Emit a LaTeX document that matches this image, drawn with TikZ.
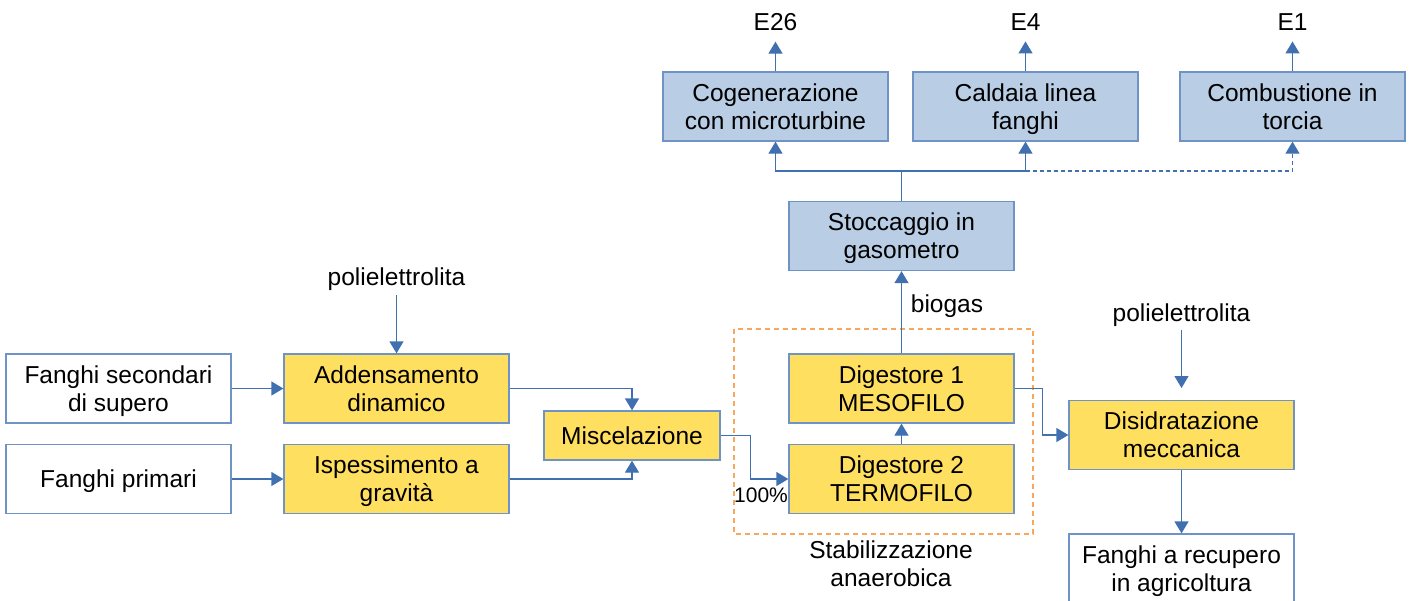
\documentclass[tikz,border=0pt]{standalone}
\usepackage{fontspec}
\setmainfont{Liberation Sans}
\usetikzlibrary{arrows.meta}
\definecolor{giallo}{HTML}{FFDF60}
\definecolor{azzurro}{HTML}{B9CDE4}
\definecolor{bordo}{HTML}{6F93C6}
\definecolor{freccia}{HTML}{4170B0}
\definecolor{arancio}{HTML}{F7A65B}
\tikzset{%
    blocco/.style={%
        draw=bordo, line width=1.3pt, fill=white,
        minimum width=225pt, minimum height=69pt,
        align=center, inner sep=0pt, text depth=0pt,
        font=\fontsize{24.5}{28}\selectfont
    },
    fase/.style={blocco, fill=giallo},
    gas/.style={blocco, fill=azzurro},
    etichetta/.style={font=\fontsize{24.5}{28}\selectfont, align=center, inner sep=0pt},
    uscita/.style={etichetta, outer ysep=11pt},
    flusso/.style={draw=freccia, line width=1.3pt, -{Triangle[width=14pt,length=12pt]}},
    linea/.style={draw=freccia, line width=1.3pt}
}

\begin{document}
\begin{tikzpicture}[x=1pt,y=-1pt]
    \useasboundingbox (0,0) rectangle (1412,600);
    % linea fanghi
    \node[blocco] (sec) at (118.5,388.5) {Fanghi secondari\\di supero};
    \node[blocco] (pri) at (118.5,479) {Fanghi primari};
    \node[fase] (add) at (396.5,388.5) {Addensamento\\dinamico};
    \node[fase] (isp) at (396.5,479) {Ispessimento a\\gravità};
    \node[fase, minimum width=176pt, minimum height=49pt] (misc) at (632,435.5) {Miscelazione};
    \node[fase] (dig1) at (901.5,388.5) {Digestore 1\\MESOFILO};
    \node[fase] (dig2) at (901.5,479) {Digestore 2\\TERMOFILO};
    \node[fase] (dis) at (1181.5,435) {Disidratazione\\meccanica};
    \node[blocco] (rec) at (1181.5,568.5) {Fanghi a recupero\\in agricoltura};
    % linea gas
    \node[gas] (stocc) at (901.5,236) {Stoccaggio in\\gasometro};
    \node[gas] (cog) at (775.5,106.5) {Cogenerazione\\con microturbine};
    \node[gas] (cald) at (1025.5,106.5) {Caldaia linea\\fanghi};
    \node[gas] (tor) at (1292.5,106.5) {Combustione in\\torcia};
    \node[uscita] (e26) at (775.5,22) {E26};
    \node[uscita] (e4) at (1025.5,22) {E4};
    \node[uscita] (e1) at (1292.5,22) {E1};
    % etichette
    \node[etichetta, outer ysep=5pt] (poli1) at (396.5,279) {polielettrolita};
    \node[etichetta, outer ysep=4pt] (poli2) at (1181.5,315) {polielettrolita};
    \node[etichetta] (biogas) at (947,306) {biogas};
    \node[etichetta, font=\fontsize{21}{24}\selectfont] (perc) at (761,495) {100\%};
    \node[etichetta] (stab) at (891,564) {Stabilizzazione\\anaerobica};
    \draw[arancio, line width=1.3pt, dash pattern=on 5pt off 4pt] (734,329) rectangle (1033,534);
    \coordinate (nodo) at (901.5,171);
    \coordinate (dosaggio) at (1181.5,388);
    % connessioni
    \draw[flusso] (sec) -- (add);
    \draw[flusso] (pri) -- (isp);
    \draw[flusso] (poli1) -- (add);
    \draw[flusso] (add.east) -| (misc.north);
    \draw[flusso] (isp.east) -| (misc.south);
    \draw[flusso] (misc.east) -- ++(30,0) |- (dig2.west);
    \draw[flusso] (dig2) -- (dig1);
    \draw[flusso] (dig1) -- (stocc);
    \draw[flusso] (dig1.east) -- ++(28,0) |- (dis.west);
    \draw[flusso] (poli2) -- (dosaggio);
    \draw[flusso] (dis) -- (rec);
    \draw[linea] (stocc) -- (nodo);
    \draw[flusso] (nodo) -| (cog.south);
    \draw[flusso] (nodo) -| (cald.south);
    \draw[flusso, dash pattern=on 4pt off 3pt] (cald.south |- nodo) -| (tor.south);
    \draw[flusso] (cog) -- (e26);
    \draw[flusso] (cald) -- (e4);
    \draw[flusso] (tor) -- (e1);
\end{tikzpicture}
\end{document}
